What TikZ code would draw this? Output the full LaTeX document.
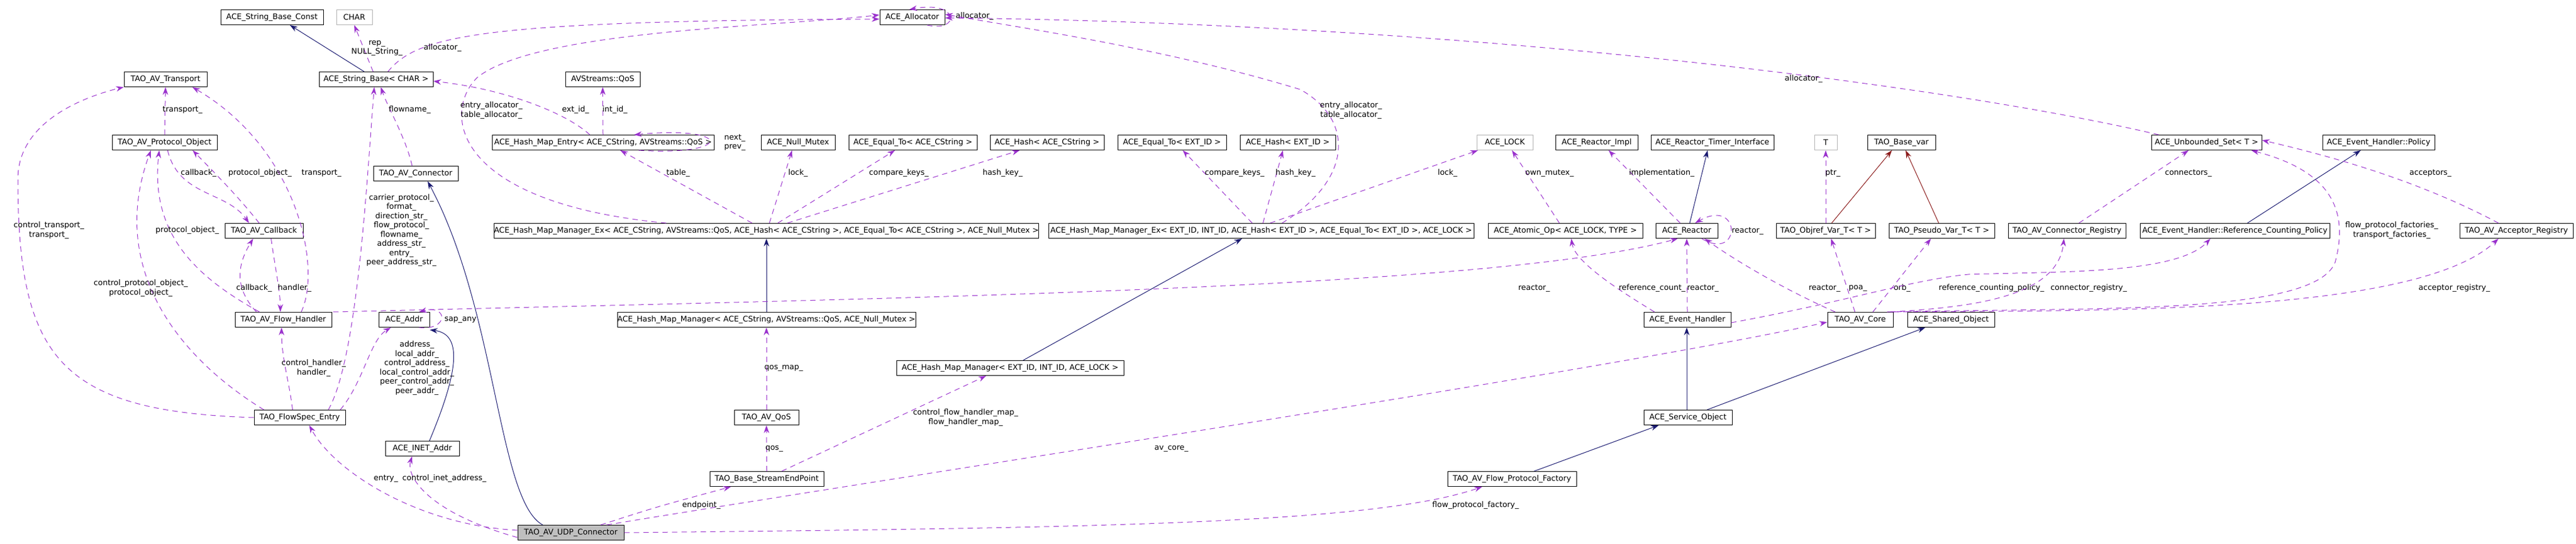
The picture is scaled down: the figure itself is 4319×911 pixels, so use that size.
\documentclass[tikz,border=0pt]{standalone}
\usepackage{fontspec}
\setmainfont{DejaVu Sans}
\usetikzlibrary{arrows.meta}
\definecolor{use}{HTML}{9A32CD}
\definecolor{inh}{HTML}{191970}
\definecolor{tpl}{HTML}{8B1A1A}
\begin{document}
\begin{tikzpicture}[x=1pt,y=-1pt,
  box/.style={draw=black,line width=1pt,minimum height=25pt,inner sep=0pt,font=\fontsize{13}{14}\selectfont,anchor=center},
  gbox/.style={box,draw=black!30},
  lbl/.style={font=\fontsize{13}{15.5}\selectfont,align=center,inner sep=0pt},
  usee/.style={draw=use,dash pattern=on 9pt off 7pt,line width=1pt,-{Stealth[length=13pt,width=9pt]}},
  inhe/.style={draw=inh,line width=1pt,-{Stealth[length=13pt,width=9pt]}},
  tple/.style={draw=tpl,line width=1pt,-{Stealth[length=13pt,width=9pt]}}]
\useasboundingbox (0,0) rectangle (4319,911);
% nodes
\node[box,minimum width=172] (sbc) at (456,29) {ACE\_String\_Base\_Const};
\node[gbox,minimum width=60] (chr) at (594,29) {CHAR};
\node[box,minimum width=109] (alloc) at (1529.5,29) {ACE\_Allocator};
\node[box,minimum width=191] (sb) at (630.5,133) {ACE\_String\_Base< CHAR >};
\node[box,minimum width=139] (tr) at (277.5,133) {TAO\_AV\_Transport};
\node[box,minimum width=125] (qos) at (1010.5,133) {AVStreams::QoS};
\node[box,minimum width=176] (po) at (276,239) {TAO\_AV\_Protocol\_Object};
\node[box,minimum width=372] (hme) at (1011,239) {ACE\_Hash\_Map\_Entry< ACE\_CString, AVStreams::QoS >};
\node[box,minimum width=124] (nm) at (1338,239) {ACE\_Null\_Mutex};
\node[box,minimum width=215] (eqc) at (1530.5,239) {ACE\_Equal\_To< ACE\_CString >};
\node[box,minimum width=191] (hc) at (1755.5,239) {ACE\_Hash< ACE\_CString >};
\node[box,minimum width=182] (eqe) at (1965,239) {ACE\_Equal\_To< EXT\_ID >};
\node[box,minimum width=160] (he) at (2159,239) {ACE\_Hash< EXT\_ID >};
\node[gbox,minimum width=94] (lock) at (2523,239) {ACE\_LOCK};
\node[box,minimum width=138] (rimpl) at (2677,239) {ACE\_Reactor\_Impl};
\node[box,minimum width=206] (rti) at (2871,239) {ACE\_Reactor\_Timer\_Interface};
\node[gbox,minimum width=38] (T) at (3061,239) {T};
\node[box,minimum width=114] (bvar) at (3188,239) {TAO\_Base\_var};
\node[box,minimum width=185] (us) at (3699.5,239) {ACE\_Unbounded\_Set< T >};
\node[box,minimum width=188] (ehp) at (3988,239) {ACE\_Event\_Handler::Policy};
\node[box,minimum width=142] (conn) at (697,291) {TAO\_AV\_Connector};
\node[box,minimum width=131] (cb) at (442.5,387) {TAO\_AV\_Callback};
\node[box,minimum width=900] (hmmex1) at (1285,387) {ACE\_Hash\_Map\_Manager\_Ex< ACE\_CString, AVStreams::QoS, ACE\_Hash< ACE\_CString >, ACE\_Equal\_To< ACE\_CString >, ACE\_Null\_Mutex >};
\node[box,minimum width=713] (hmmex2) at (2114.5,387) {ACE\_Hash\_Map\_Manager\_Ex< EXT\_ID, INT\_ID, ACE\_Hash< EXT\_ID >, ACE\_Equal\_To< EXT\_ID >, ACE\_LOCK >};
\node[box,minimum width=259] (atom) at (2624.5,387) {ACE\_Atomic\_Op< ACE\_LOCK, TYPE >};
\node[box,minimum width=104] (reactor) at (2828,387) {ACE\_Reactor};
\node[box,minimum width=166] (objref) at (3061,387) {TAO\_Objref\_Var\_T< T >};
\node[box,minimum width=177] (pseudo) at (3255.5,387) {TAO\_Pseudo\_Var\_T< T >};
\node[box,minimum width=197] (creg) at (3465.5,387) {TAO\_AV\_Connector\_Registry};
\node[box,minimum width=318] (rcp) at (3747,387) {ACE\_Event\_Handler::Reference\_Counting\_Policy};
\node[box,minimum width=190] (areg) at (4219,387) {TAO\_AV\_Acceptor\_Registry};
\node[box,minimum width=162] (fh) at (475,536) {TAO\_AV\_Flow\_Handler};
\node[box,minimum width=85] (addr) at (677.5,536) {ACE\_Addr};
\node[box,minimum width=500] (hmm1) at (1285,536) {ACE\_Hash\_Map\_Manager< ACE\_CString, AVStreams::QoS, ACE\_Null\_Mutex >};
\node[box,minimum width=146] (eh) at (2829,536) {ACE\_Event\_Handler};
\node[box,minimum width=110] (core) at (3119,536) {TAO\_AV\_Core};
\node[box,minimum width=146] (so) at (3271,536) {ACE\_Shared\_Object};
\node[box,minimum width=381] (hmm2) at (1693.5,617) {ACE\_Hash\_Map\_Manager< EXT\_ID, INT\_ID, ACE\_LOCK >};
\node[box,minimum width=153] (fse) at (502.5,700) {TAO\_FlowSpec\_Entry};
\node[box,minimum width=108] (avqos) at (1285,700) {TAO\_AV\_QoS};
\node[box,minimum width=148] (svc) at (2830,700) {ACE\_Service\_Object};
\node[box,minimum width=124] (inet) at (708,752) {ACE\_INET\_Addr};
\node[box,minimum width=191] (bse) at (1285.5,803) {TAO\_Base\_StreamEndPoint};
\node[box,minimum width=216] (fpf) at (2535,803) {TAO\_AV\_Flow\_Protocol\_Factory};
\node[box,minimum width=178,fill=black!25] (udp) at (957,893) {TAO\_AV\_UDP\_Connector};
% inheritance
\draw[inhe] ([xshift=-20]sb.north) -- ([xshift=30]sbc.south);
\draw[inhe] ([xshift=-47]udp.north) .. controls (835,840) and (833,520) .. ([xshift=20]conn.south);
\draw[inhe] ([xshift=12]inet.north) .. controls (770,620) and (775,560) .. ([yshift=-4]addr.south east);
\draw[inhe] (hmm1.north) -- (hmmex1.south);
\draw[inhe] ([xshift=22]hmm2.north) -- ([xshift=-32]hmmex2.south);
\draw[inhe] ([xshift=5]reactor.north) -- ([xshift=-8]rti.south);
\draw[tple] ([xshift=10]objref.north) -- ([xshift=-16]bvar.south);
\draw[tple] ([xshift=-5]pseudo.north) -- ([xshift=7]bvar.south);
\draw[inhe] ([xshift=-2]svc.north) -- ([xshift=-1]eh.south);
\draw[inhe] ([xshift=32]svc.north) -- ([xshift=-43]so.south);
\draw[inhe] ([xshift=37]fpf.north) -- ([xshift=-49]svc.south);
\draw[inhe] ([xshift=21]rcp.north) -- ([xshift=-30]ehp.south);
% usage
\draw[usee] ([xshift=-5]sb.north) -- (chr.south);
\node[lbl] (l1) at (632,81) {rep\_\\NULL\_String\_};
\draw[usee] ([xshift=20]sb.north) .. controls (700,60) and (800,35) .. ([yshift=-3]alloc.west);
\node[lbl] (l2) at (742,80) {allocator\_};
\draw[usee] ([xshift=25]alloc.south) .. controls (1610,55) and (1610,0) .. ([xshift=-5]alloc.north);
\node[lbl] (l3) at (1634,27) {allocator\_};
\draw[usee] ([xshift=-168]hmmex1.north) .. controls (760,340) and (740,190) .. (800,130) .. controls (900,50) and (1300,45) .. ([yshift=4]alloc.west);
\node[lbl] (l4) at (824,185) {entry\_allocator\_\\table\_allocator\_};
\draw[usee] ([xshift=35]hmmex2.north) .. controls (2270,300) and (2270,200) .. (2180,150) .. controls (1950,80) and (1700,45) .. ([yshift=5]alloc.east);
\node[lbl] (l5) at (2265,185) {entry\_allocator\_\\table\_allocator\_};
\draw[usee] ([xshift=-80]us.north) .. controls (3300,150) and (2500,40) .. ([yshift=-1]alloc.east);
\node[lbl] (l6) at (3024,132) {allocator\_};
\draw[usee] ([xshift=-22]hme.north) .. controls (950,190) and (850,150) .. ([yshift=-3]sb.east);
\node[lbl] (l7) at (965,184) {ext\_id\_};
\draw[usee] (hme.north) -- (qos.south);
\node[lbl] (l8) at (1031,184) {int\_id\_};
\draw[usee] ([xshift=60]hme.south) .. controls (1230,262) and (1230,210) .. ([xshift=52]hme.north);
\node[lbl] (l9) at (1232,239) {next\_\\prev\_};
\draw[usee] ([xshift=-24]hmmex1.north) -- ([xshift=29]hme.south);
\node[lbl] (l10) at (1137,290) {table\_};
\draw[usee] ([xshift=5]hmmex1.north) -- ([xshift=-10]nm.south);
\node[lbl] (l11) at (1338,290) {lock\_};
\draw[usee] ([xshift=19]hmmex1.north) -- ([xshift=-30]eqc.south);
\node[lbl] (l12) at (1507,290) {compare\_keys\_};
\draw[usee] ([xshift=35]hmmex1.north) -- ([xshift=-46]hc.south);
\node[lbl] (l13) at (1681,290) {hash\_key\_};
\draw[usee] ([xshift=-15]hmmex2.north) -- ([xshift=18]eqe.south);
\node[lbl] (l14) at (2070,290) {compare\_keys\_};
\draw[usee] ([xshift=3]hmmex2.north) -- ([xshift=-8]he.south);
\node[lbl] (l15) at (2172,290) {hash\_key\_};
\draw[usee] ([xshift=15]hmmex2.north) -- ([xshift=-45]lock.south);
\node[lbl] (l16) at (2427,290) {lock\_};
\draw[usee] ([xshift=-10]atom.north) -- ([xshift=12]lock.south);
\node[lbl] (l17) at (2598,290) {own\_mutex\_};
\draw[usee] ([xshift=-11]reactor.north) -- ([xshift=20]rimpl.south);
\node[lbl] (l18) at (2786,290) {implementation\_};
\draw[usee] ([xshift=25]reactor.south) .. controls (2920,440) and (2920,330) .. ([xshift=14]reactor.north);
\node[lbl] (l19) at (2930,387) {reactor\_};
\draw[usee] (objref.north) -- (T.south);
\node[lbl] (l20) at (3073,290) {ptr\_};
\draw[usee] ([xshift=20]creg.north) -- ([xshift=-30]us.south);
\node[lbl] (l21) at (3669,290) {connectors\_};
\draw[usee] ([xshift=-30]areg.north) .. controls (4050,300) and (3900,260) .. ([yshift=4]us.east);
\node[lbl] (l22) at (4075,290) {acceptors\_};
\draw[usee] ([xshift=45]core.north) .. controls (3500,515) and (3880,530) .. (3915,440) .. controls (3945,330) and (3880,280) .. ([xshift=75]us.south);
\node[lbl] (l23) at (4010,386) {flow\_protocol\_factories\_\\transport\_factories\_};
\draw[usee] ([xshift=-55]eh.north) .. controls (2720,490) and (2640,440) .. ([xshift=10]atom.south);
\node[lbl] (l24) at (2770,483) {reference\_count\_};
\draw[usee] (eh.north) -- (reactor.south);
\node[lbl] (l25) at (2855,483) {reactor\_};
\draw[usee] ([xshift=-42]core.north) .. controls (2980,480) and (2900,430) .. ([xshift=30]reactor.south);
\node[lbl] (l26) at (3059,483) {reactor\_};
\draw[usee] ([xshift=2]fh.north east) .. controls (1500,500) and (2500,485) .. ([xshift=-15]reactor.south);
\node[lbl] (l27) at (2572,483) {reactor\_};
\draw[usee] ([xshift=-9]core.north) -- ([xshift=9]objref.south);
\node[lbl] (l28) at (3115,483) {poa\_};
\draw[usee] ([xshift=21]core.north) -- ([xshift=-18]pseudo.south);
\node[lbl] (l29) at (3189,483) {orb\_};
\draw[usee] ([yshift=-5]eh.east) .. controls (3100,505) and (3200,470) .. (3300,460) .. controls (3450,455) and (3650,460) .. ([xshift=-41]rcp.south);
\node[lbl] (l30) at (3339,483) {reference\_counting\_policy\_};
\draw[usee] ([xshift=-5]core.north east) .. controls (3300,515) and (3450,500) .. ([xshift=-5]creg.south);
\node[lbl] (l31) at (3502,483) {connector\_registry\_};
\draw[usee] (core.north east) .. controls (3500,520) and (4050,530) .. ([xshift=-30]areg.south);
\node[lbl] (l32) at (4115,483) {acceptor\_registry\_};
\draw[usee] ([xshift=60]udp.north) .. controls (1500,800) and (2700,620) .. ([yshift=-4]core.west);
\node[lbl] (l33) at (1964,752) {av\_core\_};
\draw[usee] (udp.east) .. controls (1800,885) and (2300,880) .. ([xshift=-50]fpf.south);
\node[lbl] (l34) at (2474,847) {flow\_protocol\_factory\_};
\draw[usee] ([xshift=50]udp.north) .. controls (1100,850) .. ([xshift=-60]bse.south);
\node[lbl] (l35) at (1176,847) {endpoint\_};
\draw[usee] ([yshift=4]udp.west) .. controls (700,880) and (560,790) .. ([xshift=16]fse.south);
\node[lbl] (l36) at (647,802) {entry\_};
\draw[usee] ([yshift=-8]udp.west) .. controls (720,860) and (680,800) .. ([xshift=-17]inet.south);
\node[lbl] (l37) at (745,802) {control\_inet\_address\_};
\draw[usee] ([xshift=68]fse.north) .. controls (610,640) and (620,570) .. ([xshift=-22]addr.south);
\node[lbl] (l38) at (699,617) {address\_\\local\_addr\_\\control\_address\_\\local\_control\_addr\_\\peer\_control\_addr\_\\peer\_addr\_};
\draw[usee] ([xshift=-12]fse.north) .. controls (485,640) and (472,600) .. ([xshift=-3]fh.south);
\node[lbl] (l39) at (526,617) {control\_handler\_\\handler\_};
\draw[usee] ([xshift=48]fse.north) .. controls (600,600) and (615,300) .. ([xshift=-3]sb.south);
\node[lbl] (l40) at (673,386) {carrier\_protocol\_\\format\_\\direction\_str\_\\flow\_protocol\_\\flowname\_\\address\_str\_\\entry\_\\peer\_address\_str\_};
\draw[usee] ([xshift=-6]conn.north) .. controls (680,230) and (650,180) .. ([xshift=8]sb.south);
\node[lbl] (l41) at (687,184) {flowname\_};
\draw[usee] (fse.west) .. controls (100,690) and (30,600) .. (30,300) .. controls (30,200) and (150,160) .. ([xshift=-70]tr.south);
\node[lbl] (l42) at (82,386) {control\_transport\_\\transport\_};
\draw[usee] ([xshift=-60]fse.north) .. controls (300,600) and (180,450) .. ([xshift=-23]po.south);
\node[lbl] (l43) at (236,483) {control\_protocol\_object\_\\protocol\_object\_};
\draw[usee] ([xshift=-40]fh.north) .. controls (340,470) and (250,400) .. ([xshift=-9]po.south);
\node[lbl] (l44) at (314,386) {protocol\_object\_};
\draw[usee] (po.north) -- (tr.south);
\node[lbl] (l45) at (306,184) {transport\_};
\draw[usee] ([xshift=30]fh.north) .. controls (540,450) and (500,250) .. ([xshift=45]tr.south);
\node[lbl] (l46) at (539,290) {transport\_};
\draw[usee] ([xshift=5]po.south) .. controls (300,330) and (380,320) .. ([xshift=-25]cb.north);
\node[lbl] (l47) at (333,290) {callback\_};
\draw[usee] ([xshift=-8]cb.north) .. controls (400,330) and (360,290) .. ([xshift=47]po.south);
\node[lbl] (l48) at (436,290) {protocol\_object\_};
\draw[usee] ([xshift=-45]fh.north) .. controls (390,480) and (400,440) .. ([xshift=-18]cb.south);
\node[lbl] (l49) at (426,483) {callback\_};
\draw[usee] ([xshift=12]cb.south) .. controls (460,440) and (470,490) .. ([xshift=-5]fh.north);
\node[lbl] (l50) at (494,483) {handler\_};
\draw[usee] ([xshift=25]addr.south) .. controls (752,555) and (752,510) .. ([xshift=25]addr.north);
\node[lbl] (l51) at (772,536) {sap\_any};
\draw[usee] (avqos.north) -- (hmm1.south);
\node[lbl] (l52) at (1314,617) {qos\_map\_};
\draw[usee] (bse.north) -- (avqos.south);
\node[lbl] (l53) at (1298,752) {qos\_};
\draw[usee] ([xshift=25]bse.north) -- ([xshift=-40]hmm2.south);
\node[lbl] (l54) at (1619,700) {control\_flow\_handler\_map\_\\flow\_handler\_map\_};
\end{tikzpicture}
\end{document}
